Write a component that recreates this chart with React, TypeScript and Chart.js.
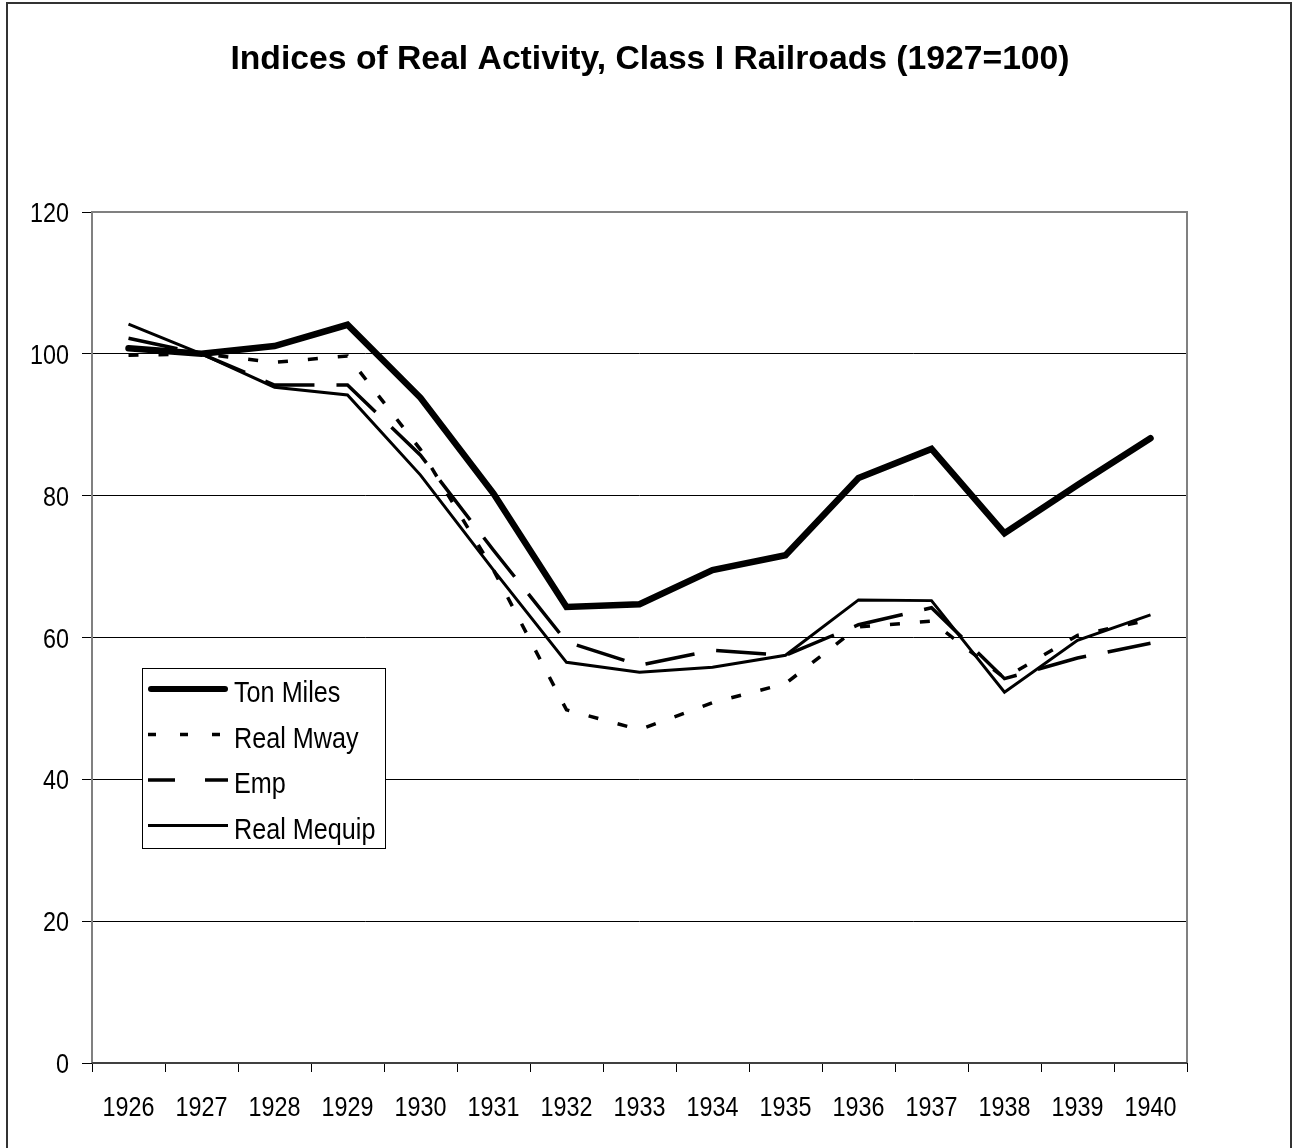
import React, { useEffect, useRef } from "react";
import { Chart, registerables } from "chart.js";

Chart.register(...registerables);

const years = ["1926", "1927", "1928", "1929", "1930", "1931", "1932", "1933", "1934", "1935", "1936", "1937", "1938", "1939", "1940"];
const tonMiles = [100.8, 100, 101.1, 104.1, 93.8, 80.3, 64.3, 64.7, 69.5, 71.6, 82.5, 86.6, 74.7, 81.5, 88.1];
const realMway = [99.8, 100, 98.8, 99.7, 86.5, 69.5, 49.8, 47.0, 50.8, 53.5, 61.5, 62.3, 54.3, 60.3, 62.5];
const emp = [102.2, 100, 95.6, 95.6, 85.7, 72.3, 59.4, 56.1, 58.2, 57.5, 61.8, 64.2, 54.2, 57.1, 59.2];
const realMequip = [104.2, 100, 95.3, 94.2, 82.9, 69.5, 56.5, 55.1, 55.8, 57.5, 65.3, 65.2, 52.3, 59.6, 63.2];
const yTickValues = [0, 20, 40, 60, 80, 100, 120];
const yMin = 0;
const yMax = 120;
const yStep = 20;

const TITLE = "Indices of Real Activity, Class I Railroads (1927=100)";
const SANS = '"Liberation Sans", Arial, sans-serif';

const legendItems = [
  { label: "Ton Miles", width: 6, dash: [] as number[], cap: "round" as CanvasLineCap },
  { label: "Real Mway", width: 3.5, dash: [8, 24], cap: "butt" as CanvasLineCap },
  { label: "Emp", width: 3.5, dash: [27, 30], cap: "butt" as CanvasLineCap },
  { label: "Real Mequip", width: 3, dash: [] as number[], cap: "butt" as CanvasLineCap },
];

function narrowText(ctx: CanvasRenderingContext2D, text: string, x: number, y: number, align: CanvasTextAlign, sx: number) {
  ctx.save();
  ctx.translate(x, y);
  ctx.scale(sx, 1);
  ctx.textAlign = align;
  ctx.textBaseline = "alphabetic";
  ctx.fillText(text, 0, 0);
  ctx.restore();
}

const decorPlugin = {
  id: "decor",
  beforeDraw(chart: any) {
    const ctx = chart.ctx;
    ctx.save();
    ctx.fillStyle = "#ffffff";
    ctx.fillRect(0, 0, chart.width, chart.height);
    ctx.restore();
  },
  afterDraw(chart: any) {
    const ctx = chart.ctx as CanvasRenderingContext2D;
    const a = chart.chartArea;
    const xs = chart.scales.x;
    const ys = chart.scales.y;
    ctx.save();
    // plot area border
    ctx.strokeStyle = "#808080";
    ctx.lineWidth = 2;
    ctx.beginPath();
    ctx.moveTo(a.left, a.bottom);
    ctx.lineTo(a.left, a.top);
    ctx.lineTo(a.right, a.top);
    ctx.lineTo(a.right, a.bottom);
    ctx.stroke();
    ctx.strokeStyle = "#404040";
    ctx.beginPath();
    ctx.moveTo(a.left, a.bottom);
    ctx.lineTo(a.right, a.bottom);
    ctx.stroke();

    // outer border
    ctx.strokeStyle = "#333333";
    ctx.lineWidth = 2;
    ctx.strokeRect(7, 3, 1284, 1160);

    // title
    ctx.fillStyle = "#000";
    ctx.font = `bold 33.7px ${SANS}`;
    ctx.textAlign = "center";
    ctx.textBaseline = "alphabetic";
    ctx.fillText(TITLE, 650, 69);

    // tick labels (condensed)
    ctx.font = `27.5px ${SANS}`;
    ctx.fillStyle = "#000";
    years.forEach((yr, i) => {
      narrowText(ctx, yr, xs.getPixelForTick(i), 1116, "center", 0.85);
    });
    yTickValues.forEach((v) => {
      narrowText(ctx, String(v), 69, ys.getPixelForValue(v) + 10, "right", 0.85);
    });

    // legend
    const bx = 142, by = 668, bw = 243, bh = 180;
    ctx.fillStyle = "#fff";
    ctx.fillRect(bx, by, bw, bh);
    ctx.strokeStyle = "#000";
    ctx.lineWidth = 1;
    ctx.strokeRect(bx + 0.5, by + 0.5, bw, bh);
    ctx.font = `30px ${SANS}`;
    legendItems.forEach((it, i) => {
      const base = 702 + i * 45.5;
      const ly = base - 13;
      ctx.strokeStyle = "#000";
      ctx.lineWidth = it.width;
      ctx.lineCap = it.cap;
      ctx.setLineDash(it.dash);
      ctx.beginPath();
      ctx.moveTo(it.cap === "round" ? 151 : 148, ly);
      ctx.lineTo(it.cap === "round" ? 225 : 228, ly);
      ctx.stroke();
      ctx.setLineDash([]);
      ctx.fillStyle = "#000";
      narrowText(ctx, it.label, 234, base, "left", 0.84);
    });
    ctx.restore();
  },
};

export default function App() {
  const ref = useRef<HTMLCanvasElement | null>(null);
  useEffect(() => {
    document.body.style.margin = "0";
    const canvas = ref.current!;
    const chart = new Chart(canvas, {
      type: "line",
      data: {
        labels: years,
        datasets: [
          { label: "Ton Miles", data: tonMiles, borderColor: "#000", borderWidth: 6.5, borderCapStyle: "round", borderJoinStyle: "miter", pointRadius: 0, tension: 0, fill: false },
          { label: "Real Mway", data: realMway, borderColor: "#000", borderWidth: 3.5, borderDash: [10, 20], borderCapStyle: "butt", pointRadius: 0, tension: 0, fill: false },
          { label: "Emp", data: emp, borderColor: "#000", borderWidth: 3.5, borderDash: [50, 22], borderCapStyle: "butt", pointRadius: 0, tension: 0, fill: false },
          { label: "Real Mequip", data: realMequip, borderColor: "#000", borderWidth: 3, borderCapStyle: "butt", borderJoinStyle: "miter", pointRadius: 0, tension: 0, fill: false },
        ],
      },
      options: {
        responsive: false,
        animation: false,
        devicePixelRatio: 1,
        layout: { padding: { top: 212, left: 0, right: 111, bottom: 25 } },
        plugins: { legend: { display: false }, title: { display: false }, tooltip: { enabled: false } },
        scales: {
          x: {
            type: "category",
            offset: true,
            afterFit(scale: any) { scale.height = 60; },
            border: { display: false },
            grid: { display: true, offset: true, drawOnChartArea: false, drawTicks: true, tickLength: 9, color: "#000", lineWidth: 1 },
            ticks: { display: false, autoSkip: false, maxRotation: 0 },
          },
          y: {
            min: yMin,
            max: yMax,
            afterFit(scale: any) { scale.width = 92; },
            border: { display: false },
            grid: { color: "#000", lineWidth: 1, drawTicks: true, tickLength: 10, tickColor: "#000" },
            ticks: { display: false, stepSize: yStep },
          },
        },
      },
      plugins: [decorPlugin],
    } as any);
    return () => chart.destroy();
  }, []);
  return (
    <div style={{ position: "absolute", left: 0, top: 0, width: 1298, height: 1148 }}>
      <canvas ref={ref} width={1298} height={1148} style={{ width: 1298, height: 1148, display: "block" }} />
    </div>
  );
}
